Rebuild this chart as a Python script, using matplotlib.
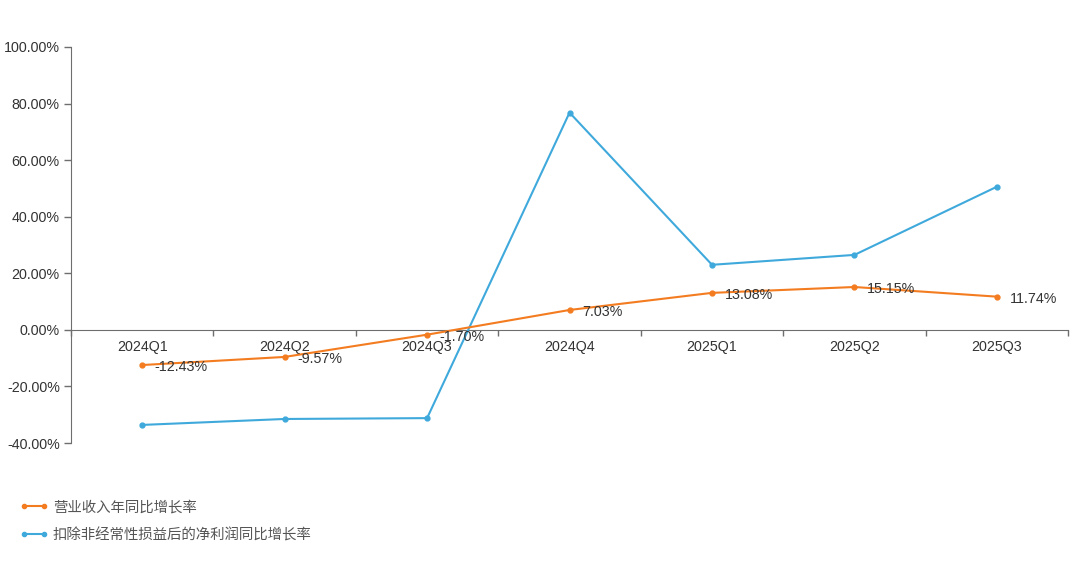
import matplotlib.pyplot as plt
from matplotlib.lines import Line2D
from matplotlib.ticker import FuncFormatter

plt.rcParams['font.family'] = ['Liberation Sans', 'Noto Sans CJK SC', 'DejaVu Sans']

# Data
quarters = ['2024Q1', '2024Q2', '2024Q3', '2024Q4', '2025Q1', '2025Q2', '2025Q3']
revenue_yoy = [-12.43, -9.57, -1.70, 7.03, 13.08, 15.15, 11.74]
deducted_profit_yoy = [-33.6, -31.5, -31.2, 76.8, 23.0, 26.5, 50.6]
series_names = ['营业收入年同比增长率', '扣除非经常性损益后的净利润同比增长率']

orange = '#f47c20'
blue = '#3fa9dc'
text_color = '#333333'
axis_color = '#6e6e6e'

fig = plt.figure(figsize=(10.8, 5.85), dpi=100)
ax = fig.add_axes([0.0657, 0.2427, 0.9233, 0.677])

x = list(range(len(quarters)))
ax.plot(x, deducted_profit_yoy, color=blue, lw=1.5, marker='o', ms=3.5, zorder=3)
ax.plot(x, revenue_yoy, color=orange, lw=1.5, marker='o', ms=3.5, zorder=4)

# data labels for revenue growth
for xi, v in zip(x, revenue_yoy):
    ax.annotate(f'{v:.2f}%', (xi, v), xytext=(9, -1.5), textcoords='offset points',
                ha='left', va='center', fontsize=10.3, color=text_color, zorder=5)

ax.set_xlim(-0.5, len(quarters) - 0.5)
ax.set_ylim(-40, 100)
ax.set_yticks(range(-40, 101, 20))
ax.yaxis.set_major_formatter(FuncFormatter(lambda v, p: f'{v:.2f}%'))
ax.tick_params(axis='y', labelsize=10.3, labelcolor=text_color, color=axis_color,
               length=5, width=1, pad=3)

# category axis sits on zero line
ax.spines['bottom'].set_position(('data', 0))
ax.spines['bottom'].set_color(axis_color)
ax.spines['left'].set_color(axis_color)
ax.spines['top'].set_visible(False)
ax.spines['right'].set_visible(False)
ax.set_xticks([i - 0.5 for i in range(len(quarters) + 1)])
ax.set_xticklabels([])
ax.tick_params(axis='x', color=axis_color, length=4, width=1)
for xi, q in zip(x, quarters):
    ax.annotate(q, (xi, 0), xytext=(0, -12.5), textcoords='offset points',
                ha='center', va='center', fontsize=10.3, color=text_color)

handles = [Line2D([0], [0], color=orange, lw=1.5, marker='o', ms=3),
           Line2D([0], [0], color=blue, lw=1.5, marker='o', ms=3)]
fig.legend(handles, series_names, loc='upper left', bbox_to_anchor=(0.006, 0.167),
           frameon=False, numpoints=2, handlelength=2.0, handletextpad=0.3,
           labelspacing=0.95, prop={'family': ['Noto Sans CJK SC'], 'size': 10.4},
           labelcolor='#555555')

fig.savefig('out.png', dpi=100)
